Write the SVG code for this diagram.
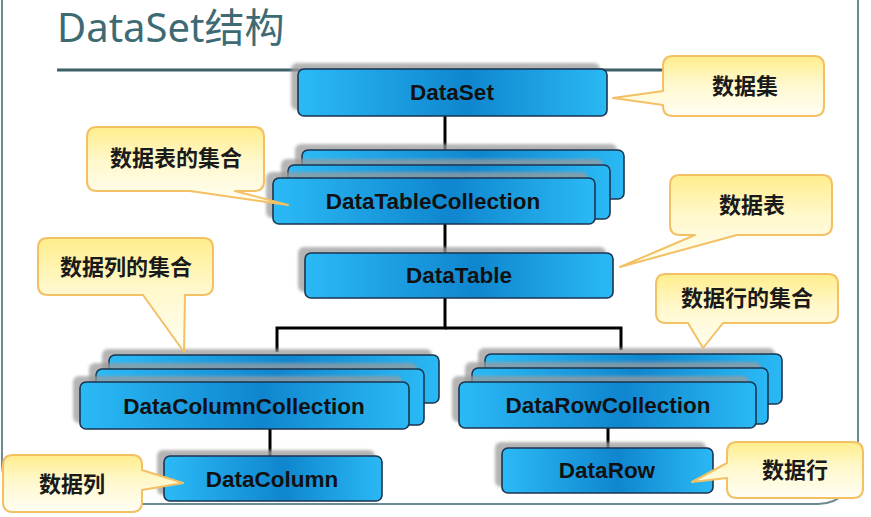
<svg xmlns="http://www.w3.org/2000/svg" width="871" height="517" viewBox="0 0 871 517">
<defs>
<linearGradient id="gNode" x1="0" y1="0" x2="1" y2="0">
<stop offset="0" stop-color="#2bbaf6"/>
<stop offset="0.55" stop-color="#0f86cf"/>
<stop offset="1" stop-color="#2ab9f4"/>
</linearGradient>
<linearGradient id="gCall" x1="0" y1="0" x2="0" y2="1">
<stop offset="0" stop-color="#ffee8c"/>
<stop offset="0.45" stop-color="#fff8cc"/>
<stop offset="1" stop-color="#fffef4"/>
</linearGradient>
<filter id="blur" x="-10%" y="-20%" width="120%" height="140%">
<feGaussianBlur stdDeviation="1.5"/>
</filter>
</defs>
<style>
.frame{fill:none;stroke:#6a8b93;stroke-width:2}
.title{font-family:"Noto Sans","Noto Sans CJK SC",sans-serif;font-size:40px;fill:#3e6b73}
.rule{stroke:#3b6068;stroke-width:3}
.sh{fill:#9c9c9c;opacity:0.75;filter:url(#blur)}
.nb{fill:url(#gNode);stroke:#1a3550;stroke-width:1.6}
.nt{font-family:"Liberation Sans",Arial,sans-serif;font-weight:bold;font-size:22.5px;fill:#111;text-anchor:middle}
.con{stroke:#000;stroke-width:3;fill:none}
.cb{fill:url(#gCall);stroke:#f3c064;stroke-width:2;stroke-linejoin:round}
.ct{font-family:"Noto Sans CJK SC","Noto Sans CJK JP",sans-serif;font-weight:bold;font-size:22px;fill:#1a1a1a;text-anchor:middle}
</style>
<rect width="871" height="517" fill="#ffffff"/>
<rect class="frame" x="2" y="-40" width="856" height="544" rx="40"/>
<text class="title" x="57" y="42">DataSet结构</text>
<line class="rule" x1="57" y1="70" x2="665" y2="70"/>

<g id="connectors">
<line class="con" x1="445" y1="116" x2="445" y2="152"/>
<line class="con" x1="445" y1="224" x2="445" y2="254"/>
<polyline class="con" points="445,298 445,328 277,328 277,352"/>
<polyline class="con" points="445,328 621,328 621,350"/>
<line class="con" x1="270" y1="429" x2="270" y2="457"/>
<line class="con" x1="608" y1="428" x2="608" y2="449"/>
</g>

<g id="dataset">
<rect class="sh" x="291" y="63" width="309" height="47" rx="6"/>
<rect class="nb" x="298" y="69" width="309" height="47" rx="6"/>
<text class="nt" x="452" y="100">DataSet</text>
</g>

<g id="datatablecollection">
<rect class="sh" x="295" y="144" width="322" height="49" rx="6"/>
<rect class="nb" x="302" y="150" width="322" height="49" rx="6"/>
<rect class="sh" x="281" y="159" width="322" height="54" rx="6"/>
<rect class="nb" x="288" y="165" width="322" height="54" rx="6"/>
<rect class="sh" x="266" y="172" width="322" height="46" rx="6"/>
<rect class="nb" x="273" y="178" width="322" height="46" rx="6"/>
<text class="nt" x="433" y="209">DataTableCollection</text>
</g>

<g id="datatable">
<rect class="sh" x="298" y="247" width="308" height="45" rx="6"/>
<rect class="nb" x="305" y="253" width="308" height="45" rx="6"/>
<text class="nt" x="459" y="283">DataTable</text>
</g>

<g id="datacolumncollection">
<rect class="sh" x="102" y="349" width="330" height="48" rx="6"/>
<rect class="nb" x="109" y="355" width="330" height="48" rx="6"/>
<rect class="sh" x="89" y="363" width="328" height="56" rx="6"/>
<rect class="nb" x="96" y="369" width="328" height="56" rx="6"/>
<rect class="sh" x="73" y="376" width="329" height="47" rx="6"/>
<rect class="nb" x="80" y="382" width="329" height="47" rx="6"/>
<text class="nt" x="244" y="414">DataColumnCollection</text>
</g>

<g id="datacolumn">
<rect class="sh" x="157" y="450" width="218" height="45" rx="6"/>
<rect class="nb" x="164" y="456" width="218" height="45" rx="6"/>
<text class="nt" x="272" y="487">DataColumn</text>
</g>

<g id="datarowcollection">
<rect class="sh" x="478" y="348" width="297" height="50" rx="6"/>
<rect class="nb" x="485" y="354" width="297" height="50" rx="6"/>
<rect class="sh" x="465" y="362" width="296" height="56" rx="6"/>
<rect class="nb" x="472" y="368" width="296" height="56" rx="6"/>
<rect class="sh" x="452" y="376" width="297" height="46" rx="6"/>
<rect class="nb" x="459" y="382" width="297" height="46" rx="6"/>
<text class="nt" x="608" y="413">DataRowCollection</text>
</g>

<g id="datarow">
<rect class="sh" x="495" y="442" width="211" height="45" rx="6"/>
<rect class="nb" x="502" y="448" width="211" height="45" rx="6"/>
<text class="nt" x="607" y="478">DataRow</text>
</g>

<g id="callout-shujuji">
<path class="cb" d="M673,56 H814 Q824,56 824,66 V106 Q824,116 814,116 H673 Q663,116 663,106 V105 L613,98 L663,91 V66 Q663,56 673,56 Z"/>
<text class="ct" x="745" y="94">数据集</text>
</g>

<g id="callout-shujubiao">
<path class="cb" d="M680,175 H822 Q832,175 832,185 V225 Q832,235 822,235 H737 L620,267 L695,235 H680 Q670,235 670,225 V185 Q670,175 680,175 Z"/>
<text class="ct" x="752" y="213">数据表</text>
</g>

<g id="callout-biaojihe">
<path class="cb" d="M97,127 H254 Q264,127 264,137 V181 Q264,191 254,191 H235 L288,205 L190,191 H97 Q87,191 87,181 V137 Q87,127 97,127 Z"/>
<text class="ct" x="176" y="166">数据表的集合</text>
</g>

<g id="callout-liejihe">
<path class="cb" d="M48,238 H203 Q213,238 213,248 V285 Q213,295 203,295 H185 L184,352 L143,295 H48 Q38,295 38,285 V248 Q38,238 48,238 Z"/>
<text class="ct" x="126" y="275">数据列的集合</text>
</g>

<g id="callout-hangjihe">
<path class="cb" d="M666,274 H828 Q838,274 838,284 V313 Q838,323 828,323 H723 L703,348 L688,323 H666 Q656,323 656,313 V284 Q656,274 666,274 Z"/>
<text class="ct" x="747" y="306">数据行的集合</text>
</g>

<g id="callout-shujuhang">
<path class="cb" d="M737,442 H853 Q863,442 863,452 V488 Q863,498 853,498 H737 Q727,498 727,488 V478 L692,482 L727,463 V452 Q727,442 737,442 Z"/>
<text class="ct" x="795" y="478">数据行</text>
</g>

<g id="callout-shujulie">
<path class="cb" d="M13,455 H132 Q142,455 142,465 V470 L183,483 L142,490 V502 Q142,512 132,512 H13 Q3,512 3,502 V465 Q3,455 13,455 Z"/>
<text class="ct" x="72" y="492">数据列</text>
</g>
</svg>
